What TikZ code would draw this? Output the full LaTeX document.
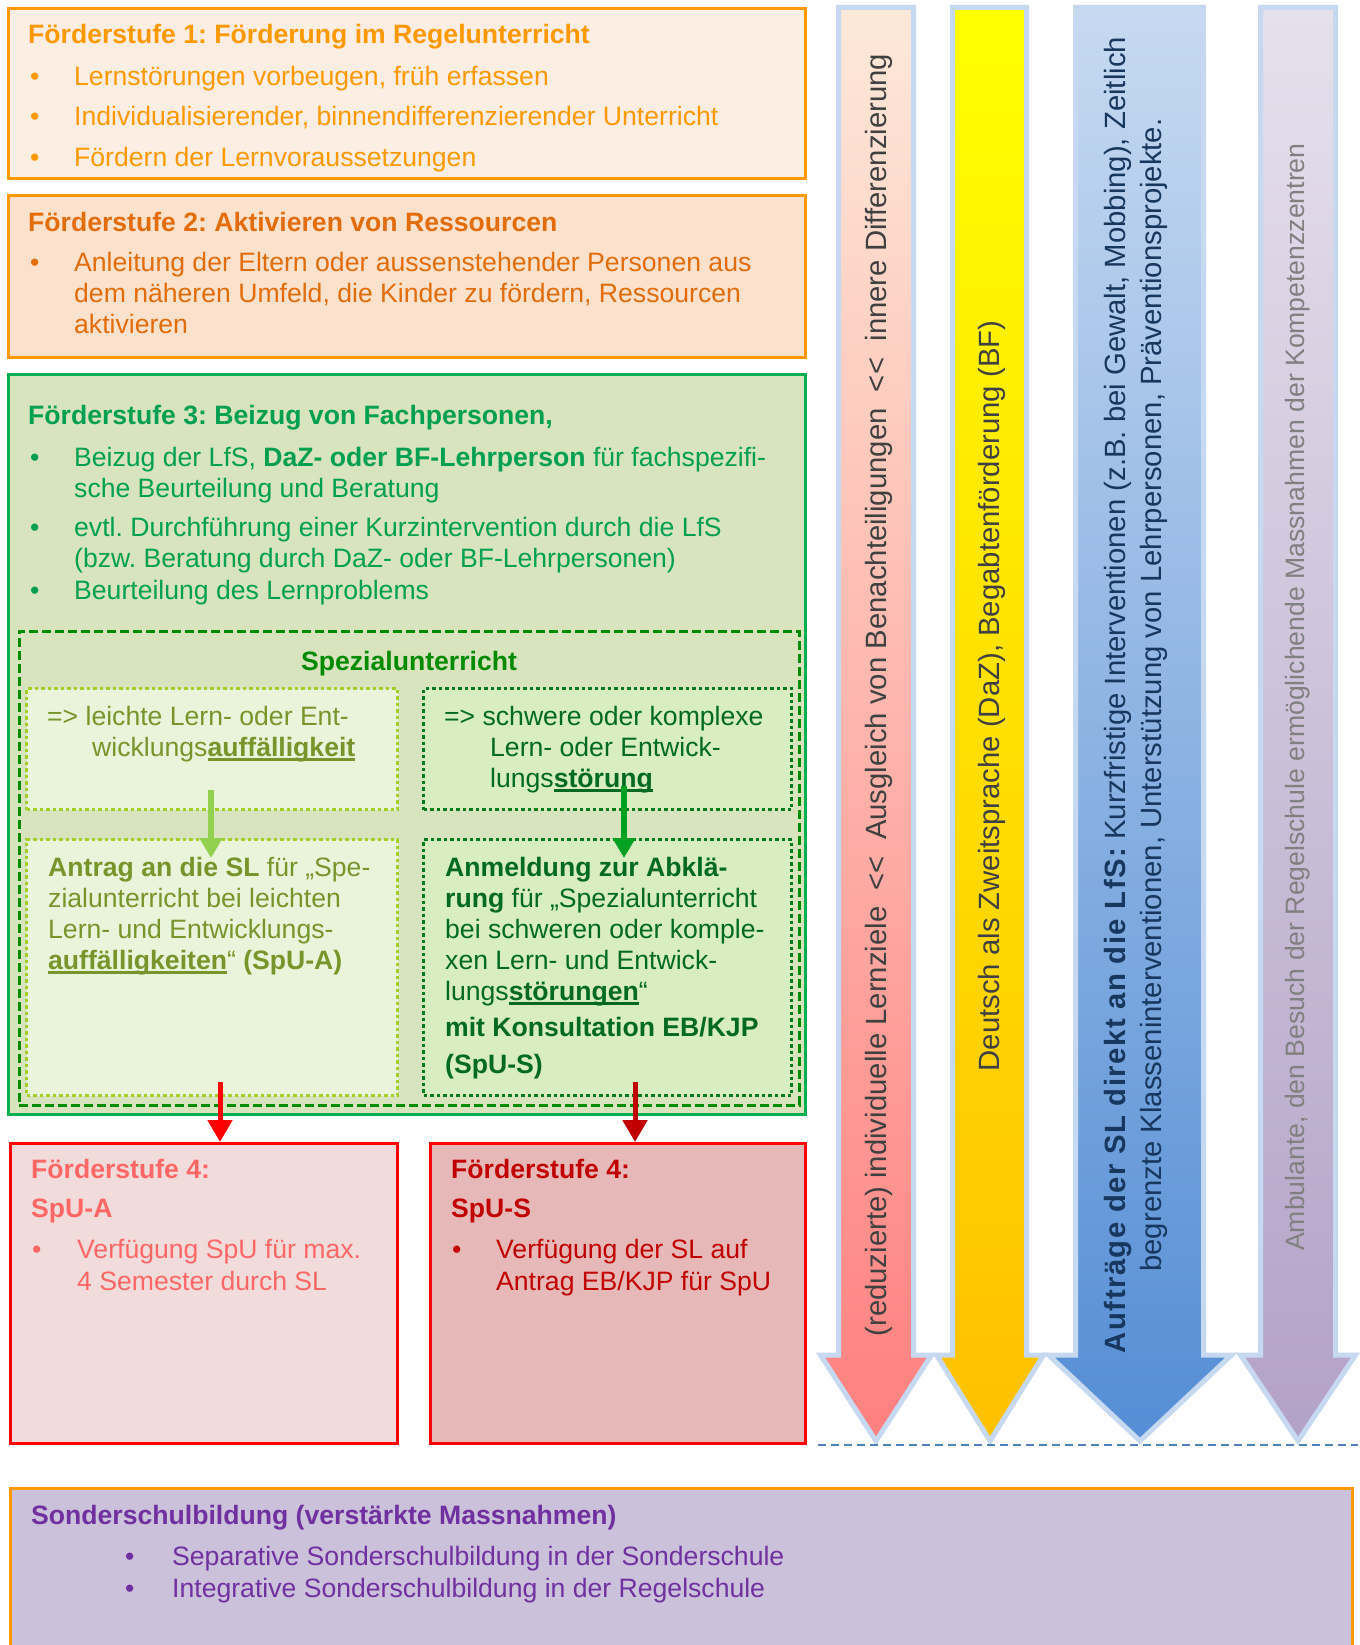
\documentclass[tikz,border=0pt]{standalone}
\usepackage{fontspec}
\setmainfont{Liberation Sans}
\usetikzlibrary{arrows.meta}
\frenchspacing
\newcommand{\fs}{\fontsize{26.6}{31}\selectfont}
\newcommand{\fa}{\fontsize{29.3}{36}\selectfont}
\newcommand{\fp}{\fontsize{26.6}{32}\selectfont}
\newcommand{\ulx}[1]{\leavevmode\setbox0=\hbox{#1}\rlap{\rule[-4.5pt]{\wd0}{2.5pt}}\box0}
\newcommand{\ml}[1]{\begin{tabular}[t]{@{}l@{}}#1\end{tabular}}
\definecolor{orA}{HTML}{FF9900}
\definecolor{orT1}{HTML}{FF9900}
\definecolor{orT2}{HTML}{E46C0A}
\definecolor{fillA}{HTML}{FDEEE3}
\definecolor{fillB}{HTML}{FCE2CC}
\definecolor{grB}{HTML}{00B050}
\definecolor{fillC}{HTML}{D7E4BD}
\definecolor{grT}{HTML}{00A050}
\definecolor{grD}{HTML}{008A00}
\definecolor{ylg}{HTML}{A2CF24}
\definecolor{fillL}{HTML}{EAF4DA}
\definecolor{fillR}{HTML}{D8EDC0}
\definecolor{olT}{HTML}{77952A}
\definecolor{dgT}{HTML}{006B1E}
\definecolor{dotR}{HTML}{007A1A}
\definecolor{lgA}{HTML}{92D050}
\definecolor{dgA}{HTML}{00A020}
\definecolor{rdA}{HTML}{FF0000}
\definecolor{drA}{HTML}{C00000}
\definecolor{fillDa}{HTML}{F2DCDB}
\definecolor{fillDb}{HTML}{E6B9B8}
\definecolor{tDa}{HTML}{FF6666}
\definecolor{tDb}{HTML}{C00000}
\definecolor{fillE}{HTML}{CCC1DA}
\definecolor{tE}{HTML}{7030A0}
\definecolor{bordc}{HTML}{C6D9F1}
\definecolor{pinkTop}{HTML}{FDE9D9}
\definecolor{pinkBot}{HTML}{FF8080}
\definecolor{yelTop}{HTML}{FFFF00}
\definecolor{yelBot}{HTML}{FFC000}
\definecolor{bluTop}{HTML}{C6D9F1}
\definecolor{bluBot}{HTML}{558ED5}
\definecolor{purTop}{HTML}{E6E0EC}
\definecolor{purBot}{HTML}{B3A2C7}
\definecolor{gryT}{HTML}{404040}
\definecolor{bluT}{HTML}{17375E}
\definecolor{gyP}{HTML}{808080}
\definecolor{dashc}{HTML}{4F81BD}
\begin{document}
\begin{tikzpicture}[x=1pt,y=-1pt,
  box/.style={draw, inner sep=0pt, outer sep=0pt, anchor=north west},
  tx/.style={anchor=base west, inner sep=0pt, font=\fs},
  atext/.style={rotate=90, inner sep=0pt, font=\fa},
  bigarrow/.style={draw=bordc, line width=5pt, line join=miter},
  sarrow/.style={line width=6pt, -{Triangle[width=22pt,length=20pt]}},
  rarrow/.style={line width=5pt, -{Triangle[width=24pt,length=22pt]}},
  dotbox/.style={box, line width=3.5pt, dash pattern=on 3.5pt off 3pt}]
\useasboundingbox (0,0) rectangle (1359,1645);
\fill[white] (0,0) rectangle (1359,1645);

% ---------- big arrows ----------
\path[bigarrow, top color=pinkTop, bottom color=pinkBot]
  (838.5,7.5) -- (913.5,7.5) -- (913.5,1355) -- (931.5,1355) -- (876,1441) -- (820.5,1355) -- (838.5,1355) -- cycle;
\path[bigarrow, top color=yelTop, bottom color=yelBot]
  (952.5,7.5) -- (1026.5,7.5) -- (1026.5,1355) -- (1043.5,1355) -- (990,1441) -- (936.5,1355) -- (952.5,1355) -- cycle;
\path[bigarrow, top color=bluTop, bottom color=bluBot]
  (1075.5,7.5) -- (1203.5,7.5) -- (1203.5,1355) -- (1231.5,1355) -- (1140,1441) -- (1048.5,1355) -- (1075.5,1355) -- cycle;
\path[bigarrow, top color=purTop, bottom color=purBot]
  (1260.5,7.5) -- (1335.5,7.5) -- (1335.5,1355) -- (1355.5,1355) -- (1298,1441) -- (1240.5,1355) -- (1260.5,1355) -- cycle;

\coordinate (dl1) at (818,1445);
\coordinate (dl2) at (1358,1445);
\draw[dashc, line width=1.8pt, dash pattern=on 8pt off 5pt] (dl1) -- (dl2);

\node[atext, text=gryT] (tpink) at (879,695) {(reduzierte) individuelle Lernziele~~<{}<~~Ausgleich von Benachteiligungen~~<{}<~~innere Differenzierung};
\node[atext, text=gryT] (tyel) at (992,696) {Deutsch als Zweitsprache (DaZ), Begabtenförderung (BF)};
\node[atext, text=bluT, align=center] (tblue) at (1136,695) {{\bfseries\addfontfeature{LetterSpace=5}Aufträge der SL direkt an die LfS:} Kurzfristige Interventionen (z.B. bei Gewalt, Mobbing), Zeitlich\\begrenzte Klasseninterventionen, Unterstützung von Lehrpersonen, Präventionsprojekte.};
\node[atext, font=\fp, text=gyP] (tpur) at (1298,697) {Ambulante, den Besuch der Regelschule ermöglichende Massnahmen der Kompetenzzentren};

% ---------- box 1 ----------
\node[box, fill=fillA, draw=orA, line width=3pt, minimum width=797pt, minimum height=170pt] (b1) at (8.5,8.5) {};
\node[tx, text=orT1, font=\fs\bfseries] (t1) at (28,44) {Förderstufe 1: Förderung im Regelunterricht};
\node[tx, text=orT1] (t1p1) at (30,86) {•};
\node[tx, text=orT1] (t1x1) at (74,86) {Lernstörungen vorbeugen, früh erfassen};
\node[tx, text=orT1] (t1p2) at (30,126) {•};
\node[tx, text=orT1] (t1x2) at (74,126) {Individualisierender, binnendifferenzierender Unterricht};
\node[tx, text=orT1] (t1p3) at (30,167) {•};
\node[tx, text=orT1] (t1x3) at (74,167) {Fördern der Lernvoraussetzungen};

% ---------- box 2 ----------
\node[box, fill=fillB, draw=orA, line width=3pt, minimum width=797pt, minimum height=162pt] (b2) at (8.5,195.5) {};
\node[tx, text=orT2, font=\fs\bfseries] (t2) at (28,232) {Förderstufe 2: Aktivieren von Ressourcen};
\node[tx, text=orT2] (t2p1) at (30,272) {•};
\node[tx, text=orT2] (t2x1) at (74,272) {\ml{Anleitung der Eltern oder aussenstehender Personen aus\\dem näheren Umfeld, die Kinder zu fördern, Ressourcen\\aktivieren}};

% ---------- box 3 ----------
\node[box, fill=fillC, draw=grB, line width=3pt, minimum width=797pt, minimum height=740pt] (b3) at (8.5,374.5) {};
\node[tx, text=grT, font=\fs\bfseries] (t3) at (28,424) {Förderstufe 3: Beizug von Fachpersonen,};
\node[tx, text=grT] (t3p1) at (30,466) {•};
\node[tx, text=grT] (t3x1) at (74,466) {\ml{Beizug der LfS, \textbf{DaZ- oder BF-Lehrperson} für fachspezifi-\\sche Beurteilung und Beratung}};
\node[tx, text=grT] (t3p2) at (30,536) {•};
\node[tx, text=grT] (t3x2) at (74,536) {\ml{evtl. Durchführung einer Kurzintervention durch die LfS\\(bzw. Beratung durch DaZ- oder BF-Lehrpersonen)}};
\node[tx, text=grT] (t3p3) at (30,599) {•};
\node[tx, text=grT] (t3x3) at (74,599) {Beurteilung des Lernproblems};

% Spezialunterricht
\node[box, draw=grD, line width=3pt, dash pattern=on 9pt off 4pt, minimum width=780pt, minimum height=474pt] (spz) at (19,631) {};
\node[anchor=base, inner sep=0pt, text=grD, font=\fs\bfseries] (spzt) at (409,670) {Spezialunterricht};

\node[dotbox, fill=fillL, draw=ylg, minimum width=371pt, minimum height=121pt] (ltop) at (26.5,688.5) {};
\node[dotbox, fill=fillR, draw=dotR, minimum width=368pt, minimum height=121pt] (rtop) at (423.5,688.5) {};
\node[dotbox, fill=fillL, draw=ylg, minimum width=371pt, minimum height=256pt] (lbot) at (26.5,839.5) {};
\node[dotbox, fill=fillR, draw=dotR, minimum width=368pt, minimum height=256pt] (rbot) at (423.5,839.5) {};

\node[tx, text=olT] (ltopt) at (47,725) {\ml{=> leichte Lern- oder Ent-\\\hspace*{45pt}wicklungs\ulx{\textbf{auffälligkeit}}}};
\node[tx, text=dgT] (rtopt) at (444,725) {\ml{=> schwere oder komplexe\\\hspace*{46pt}Lern- oder Entwick-\\\hspace*{46pt}lungs\ulx{\textbf{störung}}}};
\node[tx, text=olT] (lbott) at (48,876) {\ml{\textbf{Antrag an die SL} für „Spe-\\zialunterricht bei leichten\\Lern- und Entwicklungs-\\\ulx{\textbf{auffälligkeiten}}“ \textbf{(SpU-A)}}};
\node[tx, text=dgT] (rbott) at (445,876) {\ml{\textbf{Anmeldung zur Abklä-}\\\textbf{rung} für „Spezialunterricht\\bei schweren oder komple-\\xen Lern- und Entwick-\\lungs\ulx{\textbf{störungen}}“}};
\node[tx, text=dgT, font=\fontsize{26.6}{37}\selectfont\bfseries] (rbott2) at (445,1036) {\ml{mit Konsultation EB/KJP\\(SpU-S)}};

\coordinate (ga1) at (211,790);
\coordinate (ga2) at (211,858);
\coordinate (gb1) at (624,786);
\coordinate (gb2) at (624,858);
\draw[sarrow, lgA] (ga1) -- (ga2);
\draw[sarrow, dgA] (gb1) -- (gb2);

% ---------- box 4 ----------
\node[box, fill=fillDa, draw=rdA, line width=3.5pt, minimum width=387pt, minimum height=300pt] (b4a) at (10.5,1143.5) {};
\node[box, fill=fillDb, draw=rdA, line width=3.5pt, minimum width=375pt, minimum height=300pt] (b4b) at (430.5,1143.5) {};
\node[tx, text=tDa, font=\fs\bfseries] (t4a) at (31,1178) {Förderstufe 4:};
\node[tx, text=tDa, font=\fs\bfseries] (t4a2) at (31,1217) {SpU-A};
\node[tx, text=tDa] (t4ap) at (32,1258) {•};
\node[tx, text=tDa, font=\fontsize{26.6}{32}\selectfont] (t4ax) at (77,1258) {\ml{Verfügung SpU für max.\\4 Semester durch SL}};
\node[tx, text=tDb, font=\fs\bfseries] (t4b) at (451,1178) {Förderstufe 4:};
\node[tx, text=tDb, font=\fs\bfseries] (t4b2) at (451,1217) {SpU-S};
\node[tx, text=tDb] (t4bp) at (452,1258) {•};
\node[tx, text=tDb, font=\fontsize{26.6}{32}\selectfont] (t4bx) at (496,1258) {\ml{Verfügung der SL auf\\Antrag EB/KJP für SpU}};

\coordinate (ra1) at (220,1082);
\coordinate (ra2) at (220,1142);
\coordinate (rb1) at (635,1082);
\coordinate (rb2) at (635,1142);
\draw[rarrow, rdA] (ra1) -- (ra2);
\draw[rarrow, drA] (rb1) -- (rb2);

% ---------- box 5 ----------
\node[box, fill=fillE, draw=orA, line width=3pt, minimum width=1342pt, minimum height=200pt] (b5) at (10.5,1488.5) {};
\node[tx, text=tE, font=\fs\bfseries] (t5) at (31,1524) {Sonderschulbildung (verstärkte Massnahmen)};
\node[tx, text=tE] (t5p1) at (125,1565) {•};
\node[tx, text=tE] (t5x1) at (172,1565) {Separative Sonderschulbildung in der Sonderschule};
\node[tx, text=tE] (t5p2) at (125,1597) {•};
\node[tx, text=tE] (t5x2) at (172,1597) {Integrative Sonderschulbildung in der Regelschule};
\end{tikzpicture}
\end{document}
